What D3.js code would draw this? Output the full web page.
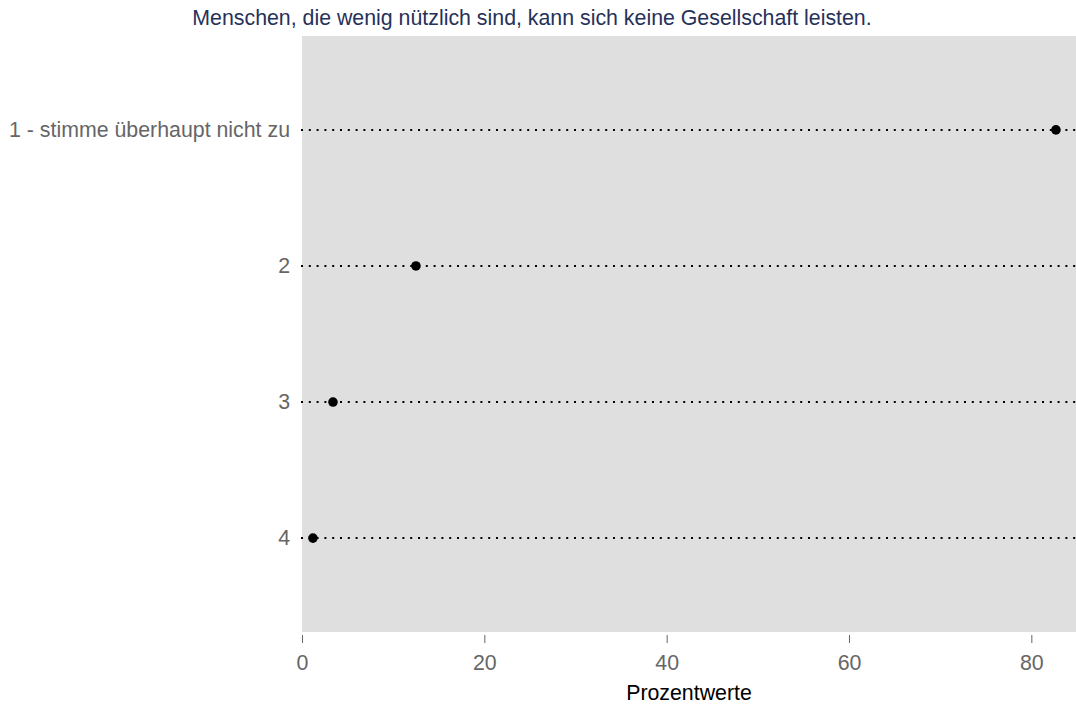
<!DOCTYPE html>
<html lang="de">
	<head>
		<meta charset="utf-8">
		<title>Dotplot</title>
		<script type="text/javascript" src="https://cdn.jsdelivr.net/npm/d3@7/dist/d3.min.js"></script>
		<style type="text/css">
			* { margin: 0; padding: 0; }
			body { background-color: white; font-family: "Liberation Sans", Arial, Helvetica, sans-serif; }
			svg { display: block; }
		</style>
	</head>
	<body>
		<div id="chart"></div>
		<script type="text/javascript">

			// data
			var title = "Menschen, die wenig nützlich sind, kann sich keine Gesellschaft leisten.";
			var categories = ["1 - stimme überhaupt nicht zu", "2", "3", "4"];
			var values = [82.7, 12.5, 3.4, 1.2];
			var xTicks = [0, 20, 40, 60, 80];
			var xLabel = "Prozentwerte";

			var w = 1076;
			var h = 706;
			var fs = "21.33px";
			var panel = {left: 302, right: 1076, top: 36, bottom: 632};

			var svg = d3.select("#chart")
				.append("svg")
				.attr("width", w)
				.attr("height", h)
				.style("font-family", "\"Liberation Sans\", Arial, Helvetica, sans-serif");

			var x = d3.scaleLinear()
				.domain([0, 84.9])
				.range([panel.left, panel.right]);

			var y = d3.scalePoint()
				.domain(categories)
				.range([panel.top, panel.bottom])
				.padding(0.69);

			//panel background
			svg.append("rect")
				.attr("x", panel.left)
				.attr("y", panel.top)
				.attr("width", panel.right - panel.left)
				.attr("height", panel.bottom - panel.top)
				.attr("fill", "#dfdfdf");

			//title
			svg.append("text")
				.attr("x", 532)
				.attr("y", 25)
				.attr("text-anchor", "middle")
				.style("font-size", fs)
				.attr("fill", "#263159")
				.text(title);

			//dotted guide lines
			svg.append("g")
				.selectAll("line")
				.data(categories)
				.enter().append("line")
				.attr("x1", panel.left - 1)
				.attr("x2", panel.right)
				.attr("y1", function(d) { return y(d); })
				.attr("y2", function(d) { return y(d); })
				.attr("stroke", "black")
				.attr("stroke-width", 2)
				.attr("stroke-dasharray", "2,5.8");

			//points
			svg.append("g")
				.selectAll("circle")
				.data(values)
				.enter().append("circle")
				.attr("cx", function(d) { return x(d); })
				.attr("cy", function(d, i) { return y(categories[i]); })
				.attr("r", 4.8)
				.attr("fill", "black");

			//y labels
			svg.append("g")
				.selectAll("text")
				.data(categories)
				.enter().append("text")
				.attr("x", 290)
				.attr("y", function(d) { return y(d) + 7; })
				.attr("text-anchor", "end")
				.style("font-size", fs)
				.attr("fill", "#666666")
				.text(function(d) { return d; });

			//x axis
			var xAxis = d3.axisBottom(x)
				.tickValues(xTicks)
				.tickSize(8)
				.tickPadding(12);

			var ax = svg.append("g")
				.attr("transform", "translate(0,635)")
				.call(xAxis);
			ax.select(".domain").remove();
			ax.selectAll("line").attr("stroke", "#666666");
			ax.selectAll("text")
				.style("font-size", fs)
				.style("font-family", "\"Liberation Sans\", Arial, sans-serif")
				.attr("fill", "#666666");

			svg.append("text")
				.attr("x", (panel.left + panel.right) / 2)
				.attr("y", 700)
				.attr("text-anchor", "middle")
				.style("font-size", fs)
				.attr("fill", "black")
				.text(xLabel);

		</script>
	</body>
</html>
